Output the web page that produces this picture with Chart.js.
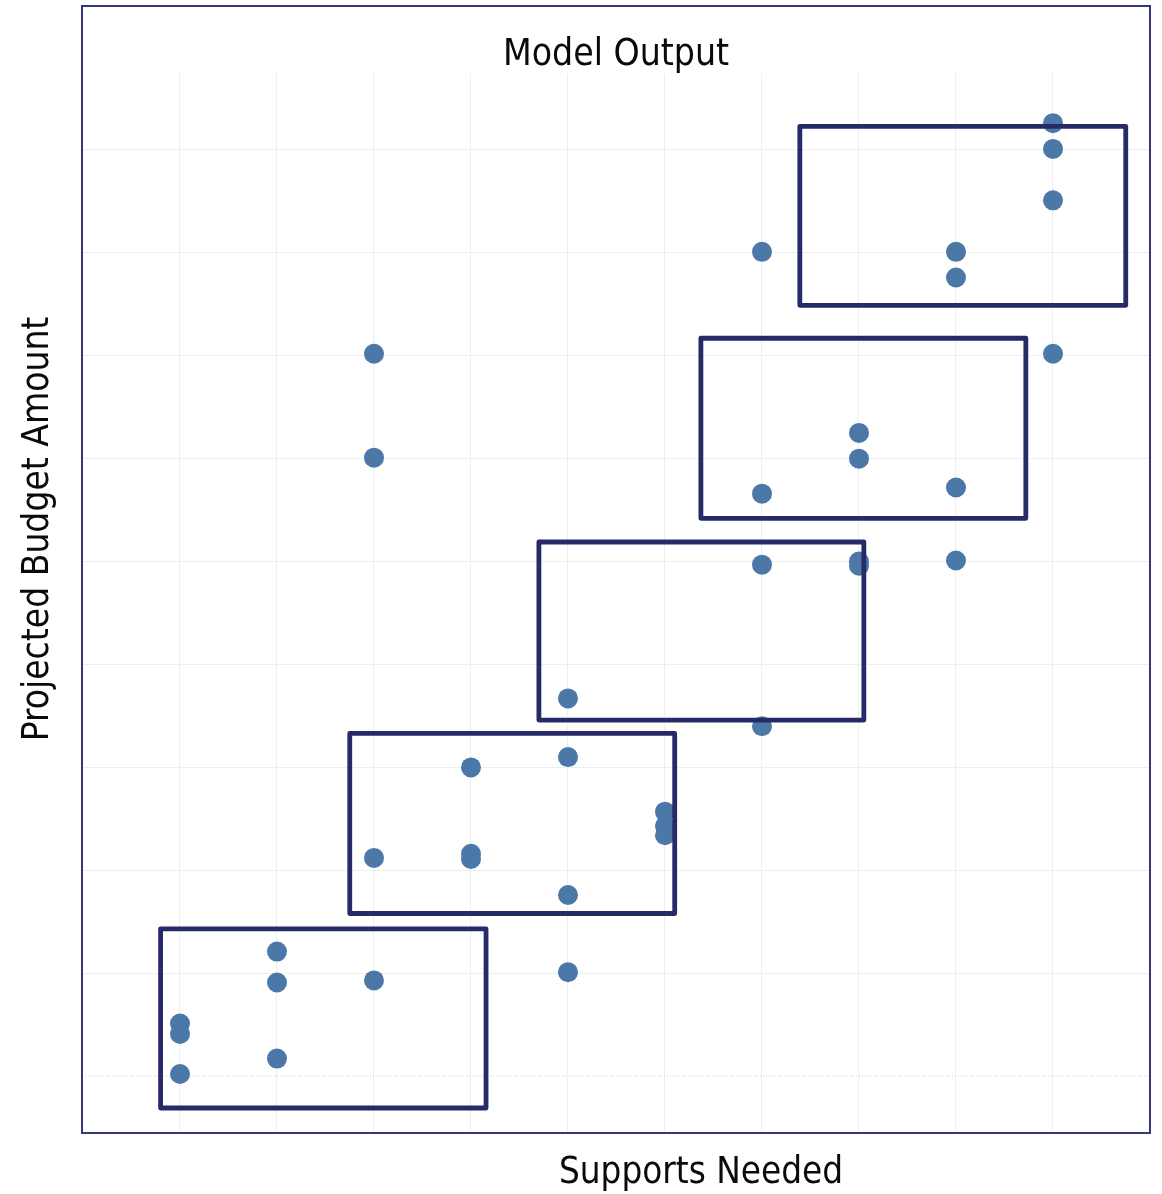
<!DOCTYPE html>
<html>
<head>
<meta charset="utf-8">
<script src="https://cdn.jsdelivr.net/npm/chart.js@4/dist/chart.umd.min.js"></script>
<style>
  html, body { margin: 0; padding: 0; background: #fff; }
  #wrap { width: 1162px; height: 1194px; }
</style>
</head>
<body>
<div id="wrap"><canvas id="chart"></canvas></div>
<script>
// points: supports needed (x) and projected budget (y, grid units)
const supports = [1, 1, 1, 2, 2, 2, 3, 3, 3, 3, 4, 4, 4, 5, 5, 5, 5, 6, 6, 6,
                  7, 7, 7, 7, 8, 8, 8, 8, 9, 9, 9, 9, 10, 10, 10, 10];
const budget = [0.51, 0.41, 0.02, 1.21, 0.91, 0.17, 0.93, 2.12, 6.01, 7.02,
                3.0, 2.16, 2.11, 3.67, 3.10, 1.76, 1.01, 2.57, 2.43, 2.34,
                8.01, 5.66, 4.97, 3.40, 6.25, 6.0, 5.0, 4.96,
                8.01, 7.76, 5.72, 5.01, 9.26, 9.01, 8.51, 7.02];

// highlight boxes, in data units
const boxXStart = [0.80, 2.75, 4.70, 6.37, 7.39];
const boxXEnd   = [4.155, 6.10, 8.05, 9.72, 10.75];
const boxYLow   = [-0.31, 1.58, 3.46, 5.42, 7.49];
const boxYHigh  = [1.43, 3.33, 5.19, 7.17, 9.23];

const FONT = "'DejaVu Sans Condensed', 'DejaVu Sans', sans-serif";
const NAVY = '#262b68';

let points = supports.map((s, i) => ({ x: s, y: budget[i] }));

function gridColor(ctx) {
  let v = ctx.tick.value;
  if (Math.abs(v - Math.round(v)) > 0.001) return 'rgba(0,0,0,0)';
  return '#eeeef1';
}

// frame, zero line, boxes and axis labels
const decorPlugin = {
  id: 'decor',
  beforeDatasetsDraw(chart) {
    const c = chart.ctx, a = chart.chartArea, y = chart.scales.y;
    let y0 = y.getPixelForValue(0);
    c.save();
    c.strokeStyle = '#cfcfcf';
    c.lineWidth = 1;
    c.setLineDash([1, 2]);
    c.beginPath();
    c.moveTo(a.left, y0);
    c.lineTo(a.right, y0);
    c.stroke();
    c.restore();
  },
  afterDraw(chart) {
    const c = chart.ctx, a = chart.chartArea;
    const xs = chart.scales.x, ys = chart.scales.y;
    c.save();
    // outer frame
    c.strokeStyle = '#343878';
    c.lineWidth = 2;
    c.strokeRect(a.left, 6, a.right - a.left, a.bottom - 6);
    // boxes
    c.strokeStyle = NAVY;
    c.lineWidth = 4.8;
    c.lineJoin = 'round';
    for (let i = 0; i < boxXStart.length; i++) {
      let x0 = xs.getPixelForValue(boxXStart[i]);
      let x1 = xs.getPixelForValue(boxXEnd[i]);
      let y0 = ys.getPixelForValue(boxYHigh[i]);
      let y1 = ys.getPixelForValue(boxYLow[i]);
      c.strokeRect(x0, y0, x1 - x0, y1 - y0);
    }
    // axis titles
    c.fillStyle = '#0a0a0a';
    c.textAlign = 'center';
    c.textBaseline = 'middle';
    c.font = '36.5px ' + FONT;
    c.fillText('Supports Needed', 701, 1174);
    c.font = '36.8px ' + FONT;
    c.translate(38, 529);
    c.rotate(-Math.PI / 2);
    c.fillText('Projected Budget Amount', 0, 0);
    c.restore();
  }
};

let chart = new Chart(document.getElementById('chart'), {
  type: 'scatter',
  data: {
    datasets: [{
      data: points,
      backgroundColor: '#4c78a8',
      borderColor: '#4c78a8',
      borderWidth: 0,
      pointRadius: 10,
      pointHoverRadius: 10
    }]
  },
  options: {
    responsive: true,
    maintainAspectRatio: false,
    animation: false,
    layout: { padding: { left: 82, right: 12, bottom: 61, top: 0 } },
    plugins: {
      legend: { display: false },
      tooltip: { enabled: false },
      title: {
        display: true,
        text: 'Model Output',
        fullSize: false,
        color: '#0a0a0a',
        font: { family: FONT, size: 37, weight: 'normal', lineHeight: 1 },
        padding: { top: 37, bottom: 0 }
      }
    },
    scales: {
      x: {
        type: 'linear',
        min: -0.0103,
        max: 11.0,
        ticks: { display: false, stepSize: 1 },
        border: { display: false },
        grid: { color: gridColor, drawTicks: false, lineWidth: 1 }
      },
      y: {
        type: 'linear',
        min: -0.553,
        max: 9.738,
        ticks: { display: false, stepSize: 1 },
        border: { display: false },
        grid: {
          color: ctx => (ctx.tick.value === 0 ? 'rgba(0,0,0,0)' : gridColor(ctx)),
          drawTicks: false,
          lineWidth: 1
        }
      }
    }
  },
  plugins: [decorPlugin]
});
</script>
</body>
</html>
